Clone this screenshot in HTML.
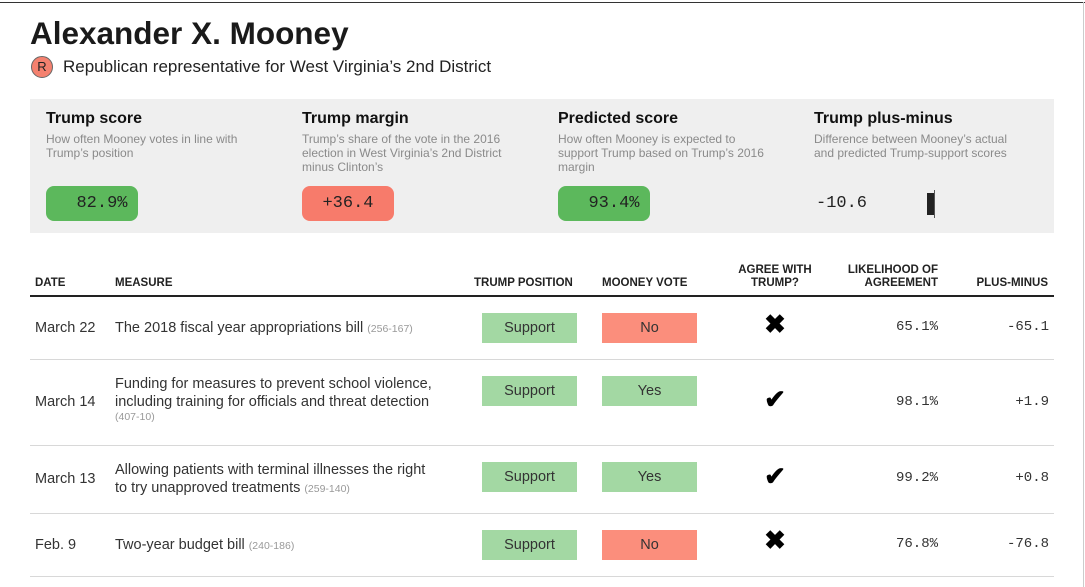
<!DOCTYPE html>
<html><head><meta charset="utf-8"><style>
body{margin:0;width:1085px;height:587px;background:#fff;position:relative;overflow:hidden;font-family:"Liberation Sans",sans-serif;color:#222}
.a{position:absolute}
.h{font-weight:bold;font-size:16px;color:#111}
.d{font-size:12px;color:#8a8a8a;line-height:14px}
.badge{position:absolute;top:186px;width:92px;height:35px;border-radius:8px;font-family:"Liberation Mono",monospace;font-size:17px;line-height:35px;text-align:center;color:#222;letter-spacing:0px}
.th{position:absolute;font-size:11.5px;font-weight:bold;color:#222;line-height:13px}
.sep{position:absolute;left:30px;width:1024px;height:1px;background:#d8d8d8}
.box{position:absolute;width:95px;height:30px;line-height:30px;text-align:center;font-size:14.5px;color:#333}
.g{background:#a3d8a3}.r{background:#fb8e7c}
.t{position:absolute;font-size:14.5px;color:#333;line-height:18px}
.sm{font-size:10.5px;color:#999}
.n{position:absolute;font-family:"Liberation Mono",monospace;font-size:14px;color:#333;text-align:right}
.ic{position:absolute;font-size:26px;font-weight:bold;color:#000;width:30px;text-align:center}
</style></head><body>
<div class="a" style="left:0;top:2px;width:1085px;height:1px;background:#333"></div>
<div class="a" style="left:1083px;top:2px;width:1px;height:585px;background:#ccc"></div>
<div class="a" style="left:30px;top:15px;font-size:31.5px;font-weight:bold;color:#1a1a1a">Alexander X. Mooney</div>
<div class="a" style="left:31px;top:56px;width:20px;height:20px;border-radius:50%;background:#f4816f;border:1px solid #666;font-size:13px;line-height:20px;text-align:center;color:#222">R</div>
<div class="a" style="left:63px;top:57px;font-size:17px;color:#222">Republican representative for West Virginia’s 2nd District</div>
<div class="a" style="left:30px;top:99px;width:1024px;height:134px;background:#efefef"></div>
<div class="a h" style="left:46px;top:110px">Trump score</div>
<div class="a d" style="left:46px;top:132px;width:230px">How often Mooney votes in line with<br>Trump’s position</div>
<div class="a h" style="left:302px;top:110px">Trump margin</div>
<div class="a d" style="left:302px;top:132px">Trump’s share of the vote in the 2016<br>election in West Virginia’s 2nd District<br>minus Clinton’s</div>
<div class="a h" style="left:558px;top:110px">Predicted score</div>
<div class="a d" style="left:558px;top:132px">How often Mooney is expected to<br>support Trump based on Trump’s 2016<br>margin</div>
<div class="a h" style="left:814px;top:110px">Trump plus-minus</div>
<div class="a d" style="left:814px;top:132px">Difference between Mooney’s actual<br>and predicted Trump-support scores</div>
<div class="badge" style="left:46px;background:#5cb85c;text-indent:20px">82.9%</div>
<div class="badge" style="left:302px;background:#f77b6b">+36.4</div>
<div class="badge" style="left:558px;background:#5cb85c;text-indent:20px">93.4%</div>
<div class="a" style="left:816px;top:194px;font-family:'Liberation Mono',monospace;font-size:17px;color:#222">-10.6</div>
<div class="a" style="left:927px;top:193px;width:7px;height:22px;background:#222"></div>
<div class="a" style="left:934px;top:190px;width:1px;height:28px;background:#555"></div>

<div class="th" style="left:35px;top:277px">DATE</div>
<div class="th" style="left:115px;top:277px">MEASURE</div>
<div class="th" style="left:474px;top:277px">TRUMP POSITION</div>
<div class="th" style="left:602px;top:277px">MOONEY VOTE</div>
<div class="th" style="left:730px;top:264px;width:90px;text-align:center">AGREE WITH<br>TRUMP?</div>
<div class="th" style="left:820px;top:264px;width:118px;text-align:right">LIKELIHOOD OF<br>AGREEMENT</div>
<div class="th" style="left:940px;top:277px;width:108px;text-align:right">PLUS-MINUS</div>
<div class="a" style="left:30px;top:295px;width:1024px;height:2px;background:#222"></div>

<div class="t" style="left:35px;top:319px">March 22</div>
<div class="t" style="left:115px;top:319px">The 2018 fiscal year appropriations bill <span class="sm">(256-167)</span></div>
<div class="box g" style="left:482px;top:313px">Support</div>
<div class="box r" style="left:602px;top:313px">No</div>
<div class="ic" style="left:760px;top:309px">✖</div>
<div class="n" style="left:820px;top:319px;width:118px">65.1%</div>
<div class="n" style="left:940px;top:319px;width:109px">-65.1</div>
<div class="sep" style="top:359px"></div>

<div class="t" style="left:35px;top:393px">March 14</div>
<div class="t" style="left:115px;top:375px">Funding for measures to prevent school violence,<br>including training for officials and threat detection<br><span class="sm" style="line-height:12px;display:block">(407-10)</span></div>
<div class="box g" style="left:482px;top:376px">Support</div>
<div class="box g" style="left:602px;top:376px">Yes</div>
<div class="ic" style="left:760px;top:384px">✔</div>
<div class="n" style="left:820px;top:394px;width:118px">98.1%</div>
<div class="n" style="left:940px;top:394px;width:109px">+1.9</div>
<div class="sep" style="top:445px"></div>

<div class="t" style="left:35px;top:470px">March 13</div>
<div class="t" style="left:115px;top:461px">Allowing patients with terminal illnesses the right<br>to try unapproved treatments <span class="sm">(259-140)</span></div>
<div class="box g" style="left:482px;top:462px">Support</div>
<div class="box g" style="left:602px;top:462px">Yes</div>
<div class="ic" style="left:760px;top:461px">✔</div>
<div class="n" style="left:820px;top:470px;width:118px">99.2%</div>
<div class="n" style="left:940px;top:470px;width:109px">+0.8</div>
<div class="sep" style="top:513px"></div>

<div class="t" style="left:35px;top:536px">Feb. 9</div>
<div class="t" style="left:115px;top:536px">Two-year budget bill <span class="sm">(240-186)</span></div>
<div class="box g" style="left:482px;top:530px">Support</div>
<div class="box r" style="left:602px;top:530px">No</div>
<div class="ic" style="left:760px;top:525px">✖</div>
<div class="n" style="left:820px;top:536px;width:118px">76.8%</div>
<div class="n" style="left:940px;top:536px;width:109px">-76.8</div>
<div class="sep" style="top:576px"></div>
</body></html>
